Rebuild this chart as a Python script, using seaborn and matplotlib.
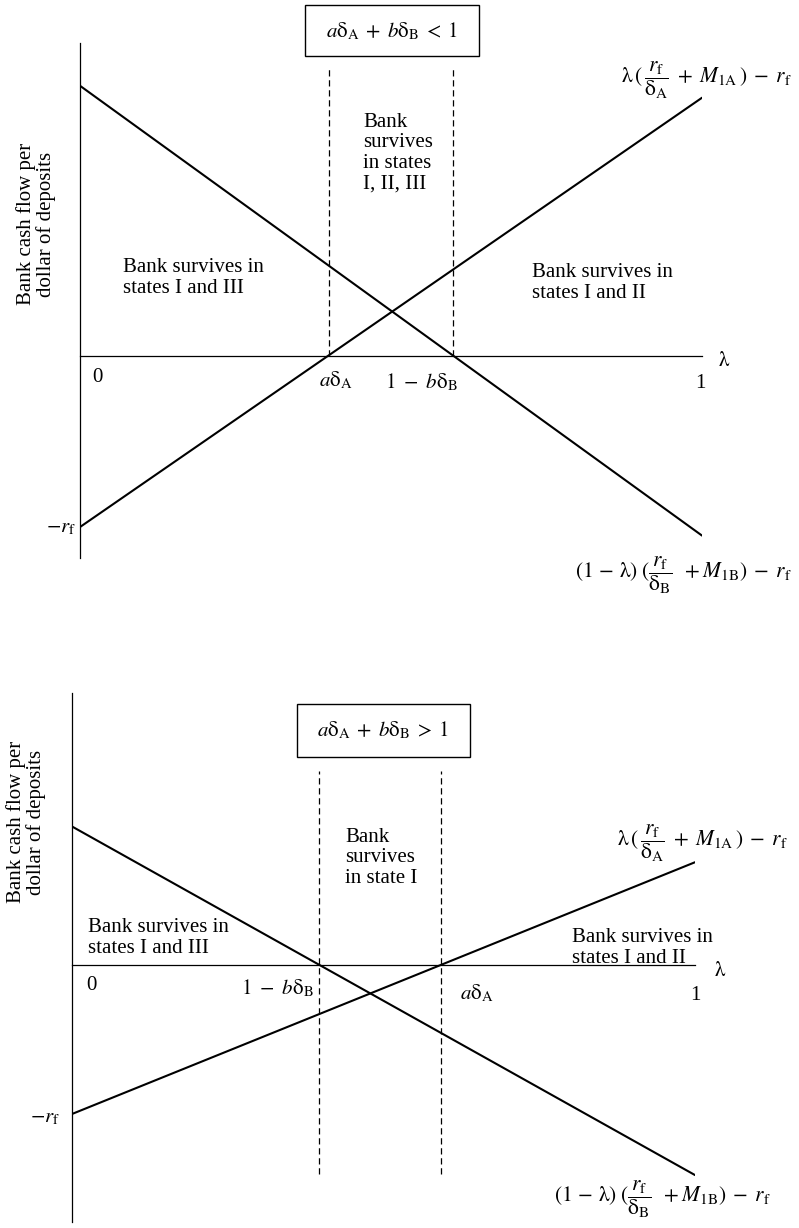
import matplotlib
matplotlib.use("Agg")
import matplotlib.pyplot as plt
import matplotlib.patches as mpatches
import seaborn as sns

# lambda runs from 0 to 1 in both panels
lam = [0.0, 1.0]

# top panel: a*dA + b*dB < 1 (cash flow in units of r_f)
top_line_a = [-1.0, 1.51]    # lambda (r_f/dA + M1A) - r_f
top_line_b = [1.58, -1.05]   # (1 - lambda)(r_f/dB + M1B) - r_f
top_cuts = [0.40, 0.60]      # a dA, 1 - b dB
top_cut_span = [0.0, 1.68]

# bottom panel: a*dA + b*dB > 1
bot_line_a = [-1.0, 0.69]
bot_line_b = [0.93, -1.41]
bot_cuts = [0.397, 0.592]    # 1 - b dB, a dA
bot_cut_span = [-1.40, 1.30]

W, H = 799, 1228

sns.set_style("white")
plt.rcParams['font.family'] = ['Liberation Serif', 'DejaVu Serif']
plt.rcParams['mathtext.fontset'] = 'stix'

fig = plt.figure(figsize=(W / 100, H / 100), dpi=100)


def px(x, y):
    return x / W, 1 - y / H


def make_axes(left, right, top, bottom, ylim):
    x0, y0 = px(left, bottom)
    ax = fig.add_axes([x0, y0, (right - left) / W, (bottom - top) / H])
    ax.set_xlim(0, 1)
    ax.set_ylim(*ylim)
    for s in ['top', 'right']:
        ax.spines[s].set_visible(False)
    ax.spines['bottom'].set_position(('data', 0))
    for s in ['left', 'bottom']:
        ax.spines[s].set_color('black')
        ax.spines[s].set_linewidth(0.9)
    ax.set_xticks([])
    ax.set_yticks([])
    ax.patch.set_alpha(0)
    return ax


def draw_panel(ax, line_a, line_b, cuts, span):
    sns.lineplot(x=lam, y=line_a, ax=ax, color='black', linewidth=1.5)
    sns.lineplot(x=lam, y=line_b, ax=ax, color='black', linewidth=1.5)
    ax.vlines(cuts, span[0], span[1], colors='black', linewidth=0.9,
              linestyles=(0, (5, 3)))
    ax.set(xlabel='', ylabel='')


def label(x, y, s, size=15, **kw):
    fig.text(*px(x, y), s, fontsize=size, color='black', **kw)


def box(left, right, top, bottom):
    x0, y0 = px(left, bottom)
    fig.patches.append(mpatches.Rectangle((x0, y0), (right - left) / W, (bottom - top) / H,
                                          transform=fig.transFigure, fill=False,
                                          edgecolor='black', linewidth=1.0))


dA = r'$a\mathrm{\delta}_\mathrm{A}$'
one_bdB = r'$1\ -\ b\mathrm{\delta}_\mathrm{B}$'
rf = r'$-r_\mathrm{f}$'
lam_sym = r'$\mathrm{\lambda}$'
formula_a = (r'$\mathrm{\lambda}\,(\,\dfrac{r_\mathrm{f}}{\mathrm{\delta}_\mathrm{A}}\;'
             r'+\;M_{1\mathrm{A}}\,)\;-\;r_\mathrm{f}$')
formula_b = (r'$(1\,-\,\mathrm{\lambda})\;(\dfrac{r_\mathrm{f}}{\mathrm{\delta}_\mathrm{B}}\;\;'
             r'+M_{1\mathrm{B}})\;-\;r_\mathrm{f}$')
ylab = 'Bank cash flow per\ndollar of deposits'
cond_lt = r'$a\mathrm{\delta}_\mathrm{A}\;+\;b\mathrm{\delta}_\mathrm{B}\;<\;1$'
cond_gt = r'$a\mathrm{\delta}_\mathrm{A}\;+\;b\mathrm{\delta}_\mathrm{B}\;>\;1$'

# ---- top panel ----
ax1 = make_axes(80, 702, 43, 558, (-1.181, 1.830))
draw_panel(ax1, top_line_a, top_line_b, top_cuts, top_cut_span)

box(305, 479, 5, 56)
label(392, 31, cond_lt, ha='center', va='center')
label(36, 224, ylab, rotation=90, ha='center', va='center', linespacing=1.0)
label(97, 378, '0', ha='center', va='center')
label(336, 380, dA, ha='center', va='center')
label(421, 382, one_bdB, ha='center', va='center')
label(700, 384, '1', ha='center', va='center')
label(724, 362, lam_sym, ha='center', va='center')
label(76, 528, rf, ha='right', va='center')
label(123, 278, 'Bank survives in\nstates I and III', ha='left', va='center', linespacing=1.1)
label(363, 153, 'Bank\nsurvives\nin states\nI, II, III', ha='left', va='center', linespacing=1.1)
label(532, 283, 'Bank survives in\nstates I and II', ha='left', va='center', linespacing=1.1)
label(706, 80, formula_a, ha='center', va='center', size=15.5)
label(683, 575, formula_b, ha='center', va='center', size=15.5)

# ---- bottom panel ----
ax2 = make_axes(72, 695, 693, 1222, (-1.725, 1.826))
draw_panel(ax2, bot_line_a, bot_line_b, bot_cuts, bot_cut_span)

box(297, 470, 704, 757)
label(383, 730, cond_gt, ha='center', va='center')
label(26, 822, ylab, rotation=90, ha='center', va='center', linespacing=1.0)
label(91, 986, '0', ha='center', va='center')
label(277, 988, one_bdB, ha='center', va='center')
label(477, 993, dA, ha='center', va='center')
label(695, 996, '1', ha='center', va='center')
label(720, 972, lam_sym, ha='center', va='center')
label(60, 1118, rf, ha='right', va='center')
label(88, 938, 'Bank survives in\nstates I and III', ha='left', va='center', linespacing=1.1)
label(345, 858, 'Bank\nsurvives\nin state I', ha='left', va='center', linespacing=1.1)
label(572, 948, 'Bank survives in\nstates I and II', ha='left', va='center', linespacing=1.1)
label(702, 843, formula_a, ha='center', va='center', size=15.5)
label(662, 1199, formula_b, ha='center', va='center', size=15.5)

fig.savefig('out.png', dpi=100, facecolor='white')
